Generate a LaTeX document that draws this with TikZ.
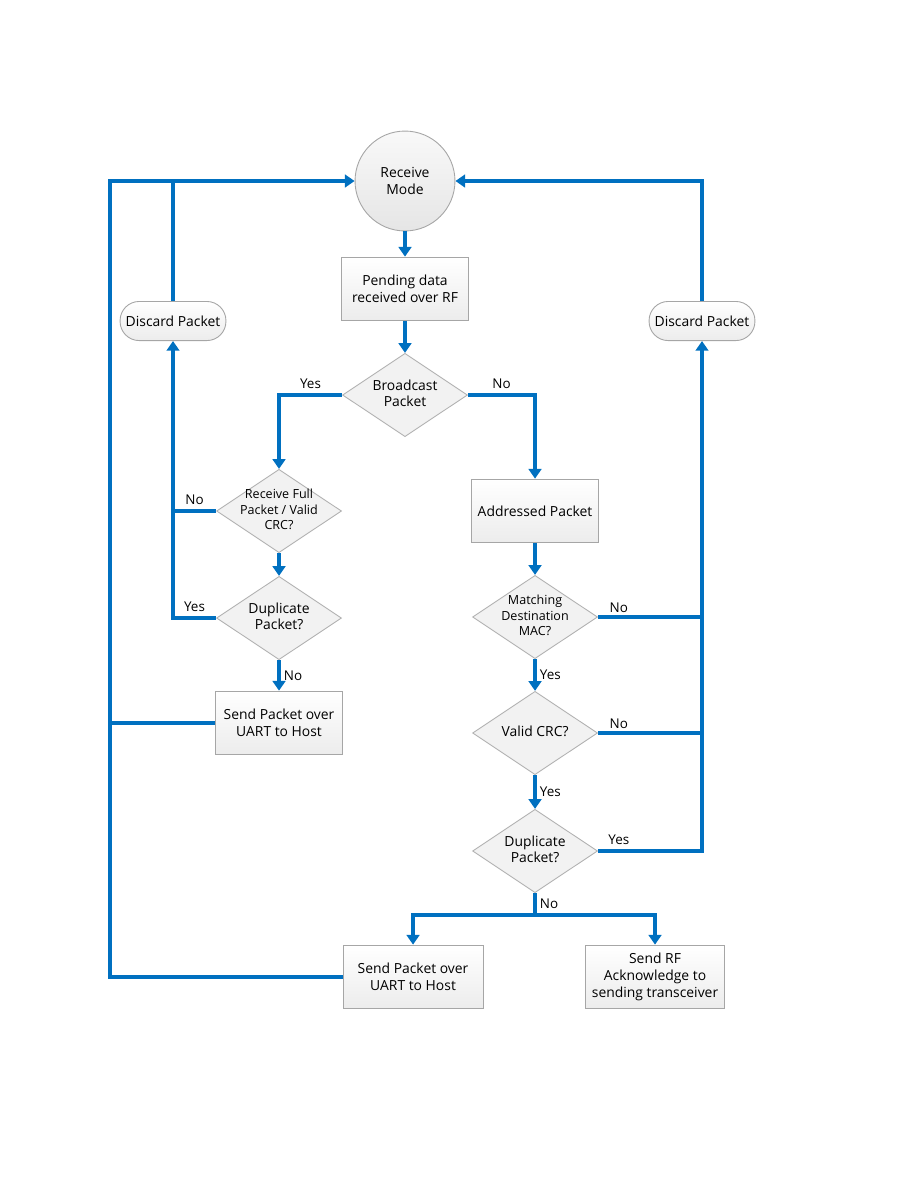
\documentclass[tikz,border=0pt]{standalone}
\usepackage{fontspec}
\setmainfont{Open Sans}
\usepackage{tikz}
\usetikzlibrary{arrows.meta,positioning,shapes.geometric}
\definecolor{flowblue}{RGB}{0,112,192}
\newcommand{\dtext}[1]{\smash{\makebox[0pt]{\raisebox{-0.25em}{\begin{tabular}{@{}c@{}}#1\end{tabular}}}}}

\begin{document}
\begin{tikzpicture}[on grid, >={Triangle[length=6.5pt,width=8.5pt]},
  font=\fontsize{9.3}{11.3}\selectfont,
  flow/.style={draw=flowblue, line width=2.5pt},
  lbl/.style={font=\fontsize{9}{10}\selectfont, inner sep=2pt},
  state/.style={circle, draw=gray!70, line width=0.6pt, top color=gray!5, bottom color=gray!20, minimum size=2.35cm, inner sep=0pt, align=center},
  process/.style={rectangle, draw=gray!70, line width=0.6pt, top color=white, bottom color=gray!15, minimum width=2.99cm, minimum height=1.5cm, align=center},
  decision/.style={diamond, draw=gray!60, line width=0.6pt, fill=gray!10, minimum width=2.94cm, minimum height=1.96cm, inner sep=0pt},
  term/.style={rectangle, rounded corners=0.45cm, draw=gray!70, line width=0.6pt, top color=white, bottom color=gray!15, minimum width=2.49cm, minimum height=0.92cm, inner sep=0pt}]
\useasboundingbox (0,0) rectangle (21.59,-27.94);

\node[state] (recv) at (9.525,-4.257) {Receive\\Mode};
\node[process, below=2.54cm of recv] (pend) {Pending data\\received over RF};
\node[decision, below=2.493cm of pend] (bcast) {\dtext{Broadcast\\Packet}};

\node[decision, below left=2.728cm and 2.963cm of bcast] (fullq) {\fontsize{8.4}{10.3}\selectfont\dtext{Receive Full\\Packet / Valid\\CRC?}};
\node[decision, below=2.517cm of fullq] (duplq) {\dtext{Duplicate\\Packet?}};
\node[process, below=2.469cm of duplq] (sendl) {Send Packet over\\UART to Host};

\node[process, below right=2.728cm and 3.058cm of bcast] (addr) {Addressed Packet};
\node[decision, below=2.493cm of addr] (match) {\fontsize{8.4}{10.3}\selectfont\dtext{Matching\\Destination\\MAC?}};
\node[decision, below=2.728cm of match] (valid) {\dtext{Valid CRC?}};
\node[decision, below=2.775cm of valid] (dupr) {\dtext{Duplicate\\Packet?}};
\node[process, minimum width=3.29cm, below left=2.963cm and 2.869cm of dupr] (sendb) {Send Packet over\\UART to Host};
\node[process, minimum width=3.25cm, below right=2.963cm and 2.822cm of dupr] (ack) {Send RF\\Acknowledge to\\sending transceiver};

\node[term, below left=3.293cm and 5.456cm of recv] (discl) {Discard Packet};
\node[term, below right=3.293cm and 6.985cm of recv] (discr) {Discard Packet};
\coordinate[left=6.938cm of recv] (rail);
\coordinate[below=1.505cm of dupr] (split);

\draw[flow,->] (recv) -- (pend);
\draw[flow,->] (pend) -- (bcast);
\draw[flow,->] (bcast.west) -| node[lbl,pos=0.25,above=1pt]{Yes} (fullq.north);
\draw[flow,->] (bcast.east) -| node[lbl,pos=0.25,above=1pt]{No} (addr.north);

\draw[flow,->] (fullq) -- (duplq);
\draw[flow,->] (duplq) -- node[lbl,right]{No} (sendl);
\draw[flow] (fullq.west) -- node[lbl,above=1pt]{No} (fullq.west -| discl);
\draw[flow,->] (duplq.west) -| node[lbl,pos=0.25,above=1pt]{Yes} (discl.south);
\draw[flow] (discl.north) -- (discl.north |- recv);
\draw[flow] (sendl.west) -- (sendl.west -| rail);
\draw[flow,->] (sendb.west) -| (rail) -- (recv.west);

\draw[flow,->] (addr) -- (match);
\draw[flow,->] (match) -- node[lbl,right]{Yes} (valid);
\draw[flow,->] (valid) -- node[lbl,right]{Yes} (dupr);
\draw[flow] (match.east) -- node[lbl,pos=0.2,above]{No} (match.east -| discr);
\draw[flow] (valid.east) -- node[lbl,pos=0.2,above]{No} (valid.east -| discr);
\draw[flow,->] (dupr.east) -| node[lbl,pos=0.1,above=1pt]{Yes} (discr.south);
\draw[flow,->] (discr.north) |- (recv.east);
\draw[flow] (dupr.south) -- node[lbl,right]{No} (split);
\draw[flow,->] (split) -| (sendb.north);
\draw[flow,->] (split) -| (ack.north);
\end{tikzpicture}
\end{document}
